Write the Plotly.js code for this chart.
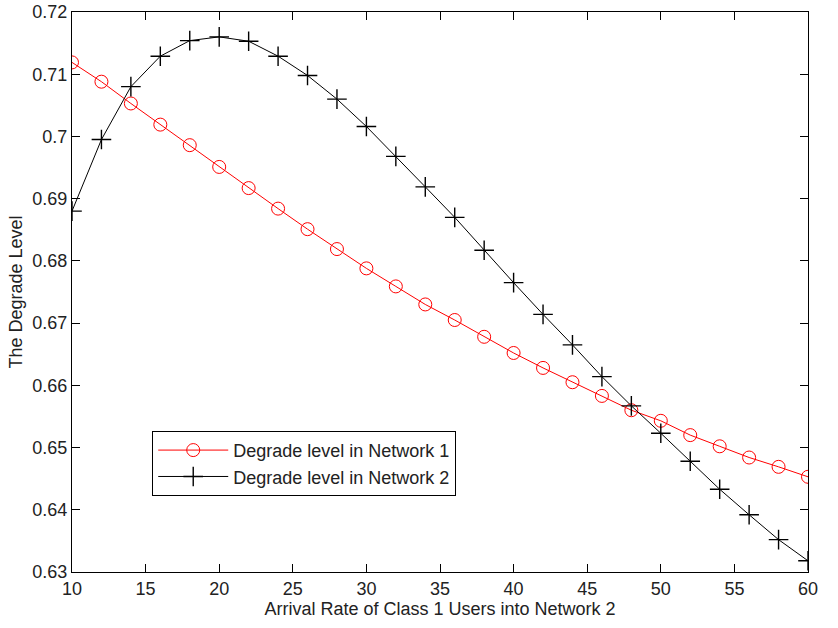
<!DOCTYPE html>
<html>
<head>
<meta charset="utf-8">
<script src="https://cdn.plot.ly/plotly-3.0.1.min.js"></script>
<style>html,body{margin:0;padding:0;background:#fff;}#chart{width:838px;height:628px;}</style>
</head>
<body>
<div id="chart"></div>
<script>
var arrivalRate = [10,12,14,16,18,20,22,24,26,28,30,32,34,36,38,40,42,44,46,48,50,52,54,56,58,60];
var degradeNet1 = [0.7119,0.7088,0.7053,0.7019,0.6986,0.6951,0.6917,0.6884,0.6851,0.6819,0.6788,0.6759,0.6730,0.6705,0.6678,0.6652,0.6628,0.6605,0.6583,0.6560,0.6543,0.6520,0.6502,0.6484,0.6469,0.6453];
var degradeNet2 = [0.6880,0.6995,0.7080,0.7129,0.7154,0.7160,0.7153,0.7129,0.7098,0.7060,0.7016,0.6968,0.6919,0.6870,0.6817,0.6765,0.6714,0.6665,0.6614,0.6567,0.6523,0.6478,0.6433,0.6392,0.6352,0.6318];
var seriesNames = ["Degrade level in Network 1","Degrade level in Network 2"];
var xTicks = [10,15,20,25,30,35,40,45,50,55,60];
var yTicks = [0.63,0.64,0.65,0.66,0.67,0.68,0.69,0.70,0.71,0.72];
var yTickText = ["0.63","0.64","0.65","0.66","0.67","0.68","0.69","0.7","0.71","0.72"];

var fontFam = "Liberation Sans, Arial, sans-serif";
var fs = 18;
var traces = [
  {x: arrivalRate, y: degradeNet1, name: seriesNames[0], type: "scatter", mode: "lines+markers",
   line: {color: "#ff0000", width: 1}, marker: {symbol: "circle-open", size: 13, color: "#ff0000", line: {width: 1, color: "#ff0000"}}},
  {x: arrivalRate, y: degradeNet2, name: seriesNames[1], type: "scatter", mode: "lines+markers",
   line: {color: "#000000", width: 1}, marker: {symbol: "cross-thin-open", size: 14, color: "#000000", line: {width: 1.4, color: "#000000"}}}
];
var axisCommon = {showgrid: false, zeroline: false, showline: true, linecolor: "#000", linewidth: 1,
  mirror: "ticks", ticks: "inside", ticklen: 8, tickwidth: 1, tickcolor: "#000",
  tickfont: {family: fontFam, size: fs, color: "#222"}};
var layout = {
  width: 838, height: 628,
  margin: {l: 72, r: 30, t: 12, b: 56},
  paper_bgcolor: "#fff", plot_bgcolor: "#fff",
  font: {family: fontFam, size: fs, color: "#222"},
  xaxis: Object.assign({}, axisCommon, {range: [10, 60], tickvals: xTicks, ticktext: xTicks.map(String),
    title: {text: "Arrival Rate of Class 1 Users into Network 2", font: {family: fontFam, size: fs, color: "#222"}, standoff: 2}}),
  yaxis: Object.assign({}, axisCommon, {range: [0.63, 0.72], tickvals: yTicks, ticktext: yTickText,
    title: {text: "The Degrade Level", font: {family: fontFam, size: fs, color: "#222"}, standoff: 5}}),
  showlegend: true,
  legend: {x: 0.109, y: 0.252, xanchor: "left", yanchor: "top", bgcolor: "#fff", bordercolor: "#000", borderwidth: 1,
    font: {family: fontFam, size: fs, color: "#222"}, itemwidth: 70, tracegroupgap: 0}
};
Plotly.newPlot("chart", traces, layout, {displayModeBar: false, staticPlot: true});
</script>
</body>
</html>
